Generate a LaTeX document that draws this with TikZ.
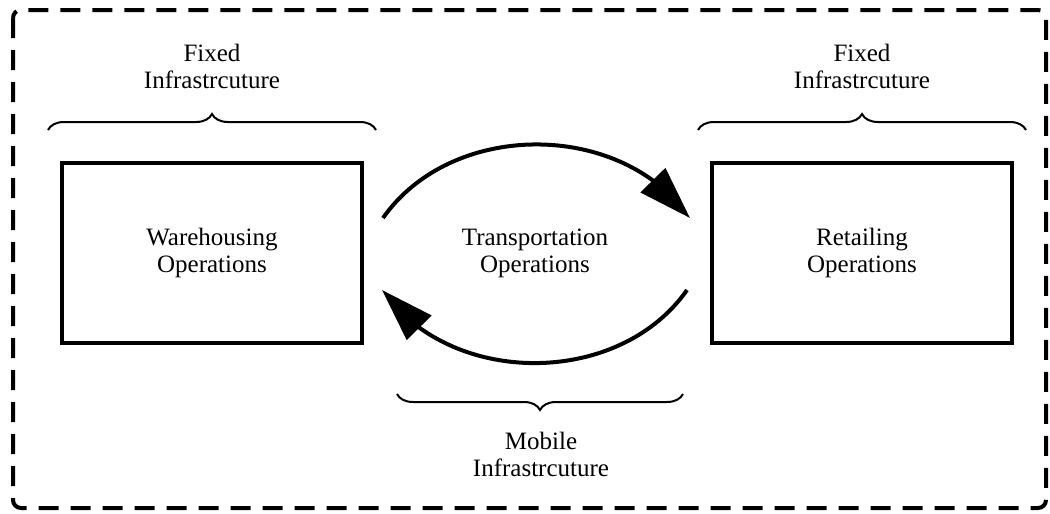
\documentclass[tikz,border=0pt]{standalone}
\usepackage{fontspec}
\setmainfont{Liberation Serif}
\usetikzlibrary{positioning, arrows.meta, bending, decorations.pathreplacing}

\begin{document}
\begin{tikzpicture}[x=1pt, y=-1pt,
    every node/.style={align=center, font=\fontsize{25}{27}\selectfont},
    opbox/.style={draw, line width=4pt, minimum width=300pt, minimum height=180pt},
    flow/.style={-{Triangle[length=53pt, width=34pt, flex]}, line width=4pt},
    brc/.style={decorate, decoration={brace, amplitude=16pt}, line width=2pt}]
    \useasboundingbox (0,0) rectangle (1050,514);
    % outer frame
    \draw[line width=4pt, dash pattern=on 20pt off 12pt, rounded corners=8pt]
      (13,10) rectangle (1046,508);

    \node[opbox] (wh) at (212,253) {Warehousing\\Operations};
    \node[opbox] (rt) at (862,253) {Retailing\\Operations};
    \node (tr) at (535,253) {Transportation\\Operations};

    \coordinate (outA) at (383,218);
    \coordinate (outB) at (690,218);
    \coordinate (backA) at (687,290);
    \coordinate (backB) at (382,290);
    \draw[flow] (outA) to[bend left=55] (outB);
    \draw[flow] (backA) to[bend left=55] (backB);

    % braces
    \coordinate (bl1) at (48,130);  \coordinate (bl2) at (376,130);
    \coordinate (br1) at (698,130); \coordinate (br2) at (1026,130);
    \coordinate (bm1) at (683,394); \coordinate (bm2) at (397,394);
    \draw[brc] (bl1) -- (bl2);
    \draw[brc] (br1) -- (br2);
    \draw[brc] (bm1) -- (bm2);

    \node (fixl) at (212,66) {Fixed\\Infrastrcuture};
    \node (fixr) at (862,66) {Fixed\\Infrastrcuture};
    \node (mob) at (541,454) {Mobile\\Infrastrcuture};
\end{tikzpicture}
\end{document}
